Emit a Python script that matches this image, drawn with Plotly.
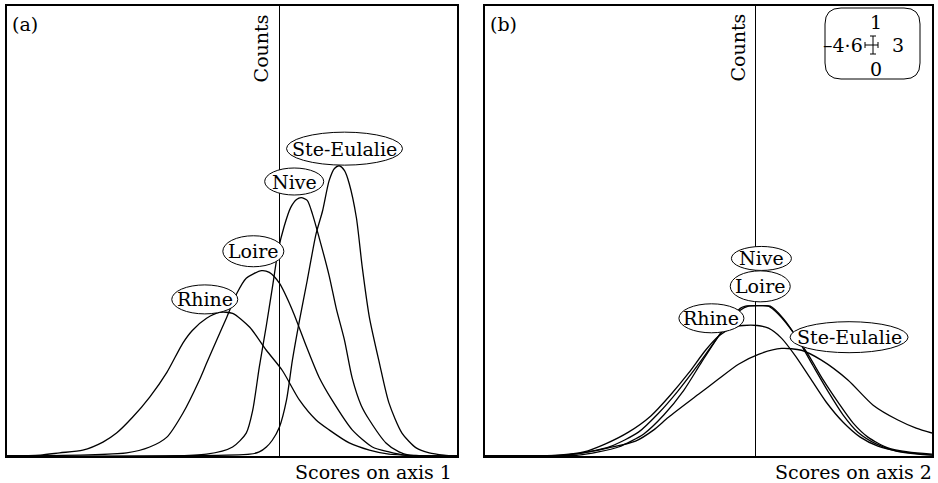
import plotly.graph_objects as go

# ---------------- data (panel a: scores on axis 1) ----------------
rhine_a_x = [-4.6, -4.04, -3.71, -3.32, -2.98, -2.75, -2.48, -2.19, -1.90, -1.63, -1.47, -1.23, -1.01, -0.79,
             -0.50, -0.22, 0.05, 0.34, 0.62, 0.84, 1.18, 1.52, 1.85, 2.36, 3.0]
rhine_a_y = [0, 0.002, 0.007, 0.013, 0.031, 0.051, 0.086, 0.131, 0.186, 0.251, 0.279, 0.306, 0.319, 0.317,
             0.286, 0.235, 0.190, 0.124, 0.080, 0.058, 0.029, 0.013, 0.004, 0.001, 0]

loire_a_x = [-4.6, -2.58, -2.19, -1.90, -1.63, -1.35, -1.23, -1.06, -0.89, -0.72, -0.56, -0.30, -0.17, 0.00,
             0.22, 0.46, 0.67, 0.89, 1.23, 1.57, 1.85, 2.11, 3.0]
loire_a_y = [0, 0.007, 0.020, 0.042, 0.095, 0.169, 0.206, 0.257, 0.308, 0.361, 0.395, 0.412, 0.408, 0.384,
             0.324, 0.242, 0.175, 0.124, 0.058, 0.020, 0.009, 0.002, 0]

nive_a_x = [-4.6, -1.23, -0.79, -0.56, -0.45, -0.34, -0.22, -0.12, -0.02, 0.08, 0.19, 0.29, 0.37, 0.47, 0.56,
            0.67, 0.84, 0.96, 1.10, 1.23, 1.38, 1.52, 1.80, 2.02, 2.19, 3.0]
nive_a_y = [0, 0.004, 0.020, 0.051, 0.102, 0.197, 0.290, 0.373, 0.457, 0.510, 0.552, 0.570, 0.574, 0.568,
            0.537, 0.486, 0.401, 0.328, 0.257, 0.173, 0.113, 0.080, 0.029, 0.009, 0.002, 0]

ste_a_x = [-4.6, -0.50, -0.34, -0.22, -0.12, 0.00, 0.12, 0.22, 0.34, 0.47, 0.62, 0.73, 0.84, 0.93, 1.01, 1.10,
           1.18, 1.30, 1.40, 1.52, 1.69, 1.85, 2.07, 2.31, 2.53, 2.78, 3.0]
ste_a_y = [0, 0.004, 0.009, 0.020, 0.035, 0.064, 0.124, 0.213, 0.302, 0.390, 0.494, 0.545, 0.612, 0.639, 0.645,
           0.634, 0.605, 0.530, 0.419, 0.308, 0.206, 0.118, 0.051, 0.018, 0.007, 0.002, 0]

# ---------------- data (panel b: scores on axis 2) ----------------
rhine_b_x = [-4.6, -3.35, -2.92, -2.55, -2.16, -1.78, -1.45, -1.14, -0.85, -0.63, -0.38, -0.21, 0.03, 0.22,
             0.44, 0.68, 0.93, 1.20, 1.49, 1.78, 2.08, 2.42, 2.85, 3.0]
rhine_b_y = [0, 0.002, 0.009, 0.027, 0.053, 0.089, 0.135, 0.184, 0.235, 0.266, 0.286, 0.290, 0.290, 0.284,
             0.262, 0.222, 0.173, 0.120, 0.075, 0.042, 0.022, 0.011, 0.004, 0.002]

loire_b_x = [-4.6, -3.01, -2.67, -2.33, -1.90, -1.56, -1.22, -0.92, -0.63, -0.41, -0.26, -0.12, 0.13, 0.25,
             0.47, 0.73, 0.98, 1.24, 1.49, 1.74, 2.05, 2.39, 2.76, 3.0]
loire_b_y = [0, 0.002, 0.009, 0.020, 0.049, 0.091, 0.146, 0.208, 0.266, 0.302, 0.324, 0.333, 0.334, 0.333,
             0.306, 0.257, 0.200, 0.142, 0.091, 0.053, 0.027, 0.011, 0.004, 0.002]

nive_b_x = [-4.6, -3.23, -2.84, -2.45, -1.99, -1.65, -1.31, -0.97, -0.68, -0.41, -0.26, -0.17, 0.05, 0.22,
            0.39, 0.64, 0.90, 1.15, 1.41, 1.66, 1.91, 2.25, 2.59, 3.0]
nive_b_y = [0, 0.002, 0.009, 0.022, 0.053, 0.095, 0.146, 0.204, 0.257, 0.306, 0.328, 0.333, 0.334, 0.333,
            0.315, 0.275, 0.224, 0.169, 0.118, 0.073, 0.042, 0.018, 0.009, 0.004]

ste_b_x = [-4.6, -3.26, -2.84, -2.50, -2.04, -1.73, -1.48, -0.97, -0.63, -0.29, 0.05, 0.44, 0.78, 1.12, 1.57,
           2.00, 2.42, 2.73, 3.00]
ste_b_y = [0, 0.002, 0.009, 0.018, 0.033, 0.058, 0.086, 0.137, 0.171, 0.204, 0.226, 0.239, 0.235, 0.213, 0.169,
           0.113, 0.080, 0.062, 0.051]

site_names = ["Rhine", "Loire", "Nive", "Ste-Eulalie"]
panel_tags = ["(a)", "(b)"]
axis_titles = ["Scores on axis 1", "Scores on axis 2"]
count_label = "Counts"
x_limits = [-4.6, 3]
y_limits = [0, 1]
scale_labels = {"top": "1", "left": "\u20134\u00b76", "right": "3", "bottom": "0"}

FONT = "DejaVu Serif"
FS = 19

fig = go.Figure()

series_a = [(rhine_a_x, rhine_a_y), (loire_a_x, loire_a_y), (nive_a_x, nive_a_y), (ste_a_x, ste_a_y)]
series_b = [(rhine_b_x, rhine_b_y), (loire_b_x, loire_b_y), (nive_b_x, nive_b_y), (ste_b_x, ste_b_y)]

for name, (xs, ys) in zip(site_names, series_a):
    fig.add_trace(go.Scatter(x=xs, y=ys, mode="lines", name=name, xaxis="x", yaxis="y",
                             line=dict(color="black", width=1.3, shape="spline", smoothing=0.7),
                             showlegend=False, hoverinfo="skip"))
for name, (xs, ys) in zip(site_names, series_b):
    fig.add_trace(go.Scatter(x=xs, y=ys, mode="lines", name=name, xaxis="x2", yaxis="y2",
                             line=dict(color="black", width=1.3, shape="spline", smoothing=0.7),
                             showlegend=False, hoverinfo="skip"))

ax_common = dict(showgrid=False, showticklabels=False, ticks="", showline=True, mirror=True,
                 linecolor="black", linewidth=1.5, fixedrange=True)
W, H = 938, 483
ML, MR, MT, MB = 7, 4, 5, 27
pw = W - ML - MR
fig.update_layout(
    width=W, height=H,
    margin=dict(l=ML, r=MR, t=MT, b=MB),
    paper_bgcolor="white", plot_bgcolor="white",
    font=dict(family=FONT, size=FS, color="black"),
    xaxis=dict(domain=[0, 451 / pw], range=x_limits, zeroline=True, zerolinecolor="black",
               zerolinewidth=1.3, **ax_common),
    yaxis=dict(domain=[0, 1], range=y_limits, zeroline=False, anchor="x", **ax_common),
    xaxis2=dict(domain=[479 / pw, 1], range=x_limits, zeroline=True, zerolinecolor="black",
                zerolinewidth=1.3, anchor="y2", **ax_common),
    yaxis2=dict(domain=[0, 1], range=y_limits, zeroline=False, anchor="x2", **ax_common),
)

shapes = []
annotations = []

# labels: (panel, name, cx, cy, w, h)
labels = [
    ("", "Rhine", -1.26, 0.348, 66, 29),
    ("", "Loire", -0.44, 0.455, 61, 31),
    ("", "Nive", 0.25, 0.610, 59, 27),
    ("", "Ste-Eulalie", 1.10, 0.683, 116, 33),
    ("2", "Nive", 0.10, 0.439, 60, 24),
    ("2", "Loire", 0.08, 0.377, 60, 31),
    ("2", "Rhine", -0.75, 0.306, 65, 29),
    ("2", "Ste-Eulalie", 1.59, 0.264, 118, 31),
]
for p, name, cx, cy, w, h in labels:
    shapes.append(dict(type="circle", xref="x" + p, yref="y" + p, xsizemode="pixel", ysizemode="pixel",
                       xanchor=cx, yanchor=cy, x0=-w / 2, x1=w / 2, y0=-h / 2, y1=h / 2,
                       fillcolor="white", line=dict(color="black", width=1), layer="above"))
    annotations.append(dict(x=cx, y=cy, xref="x" + p, yref="y" + p, text=name, showarrow=False,
                            xanchor="center", yanchor="middle", font=dict(family=FONT, size=FS)))

# panel tags, Counts, axis titles
for i, p in enumerate(["", "2"]):
    annotations.append(dict(x=0, y=1, xref="x" + p + " domain", yref="paper", text=panel_tags[i],
                            showarrow=False, xanchor="left", yanchor="middle", xshift=3, yshift=-18))
    annotations.append(dict(x=0, y=1, xref="x" + p, yref="paper", text=count_label, textangle=-90,
                            showarrow=False, xanchor="center", yanchor="middle", xshift=-18, yshift=-42))
    annotations.append(dict(x=1, y=0, xref="x" + p + " domain", yref="paper", text=axis_titles[i],
                            showarrow=False, xanchor="right", yanchor="middle", xshift=-3 if i == 0 else 2,
                            yshift=-16))

# scale key in panel (b): rounded box + cross
r = 16
x0k, x1k, y0k, y1k = -107, -12, -73, -2
path = (f"M {x0k + r},{y1k} L {x1k - r},{y1k} Q {x1k},{y1k} {x1k},{y1k - r} "
        f"L {x1k},{y0k + r} Q {x1k},{y0k} {x1k - r},{y0k} L {x0k + r},{y0k} "
        f"Q {x0k},{y0k} {x0k},{y0k + r} L {x0k},{y1k - r} Q {x0k},{y1k} {x0k + r},{y1k} Z")
shapes.append(dict(type="path", xref="paper", yref="paper", xsizemode="pixel", ysizemode="pixel",
                   xanchor=1, yanchor=1, path=path, line=dict(color="black", width=1), layer="above"))
cross_segments = [(-67, -39, -54, -39), (-67, -36, -67, -42), (-54, -36, -54, -42),
                  (-59, -30, -59, -48), (-62, -30, -56, -30), (-62, -48, -56, -48)]
for ax0, ay0, ax1, ay1 in cross_segments:
    shapes.append(dict(type="line", xref="paper", yref="paper", xsizemode="pixel", ysizemode="pixel",
                       xanchor=1, yanchor=1, x0=ax0, y0=ay0, x1=ax1, y1=ay1,
                       line=dict(color="black", width=1), layer="above"))
annotations += [
    dict(x=1, y=1, xref="paper", yref="paper", text=scale_labels["top"], showarrow=False,
         xanchor="center", yanchor="middle", xshift=-56, yshift=-16),
    dict(x=1, y=1, xref="paper", yref="paper", text=scale_labels["left"], showarrow=False,
         xanchor="right", yanchor="middle", xshift=-67, yshift=-39),
    dict(x=1, y=1, xref="paper", yref="paper", text=scale_labels["right"], showarrow=False,
         xanchor="center", yanchor="middle", xshift=-34, yshift=-39),
    dict(x=1, y=1, xref="paper", yref="paper", text=scale_labels["bottom"], showarrow=False,
         xanchor="center", yanchor="middle", xshift=-56, yshift=-63),
]

fig.update_layout(shapes=shapes, annotations=annotations)
fig.write_html("out.html", config={"displayModeBar": False},
               post_script="document.body.style.margin='0';document.body.style.overflow='hidden';")
